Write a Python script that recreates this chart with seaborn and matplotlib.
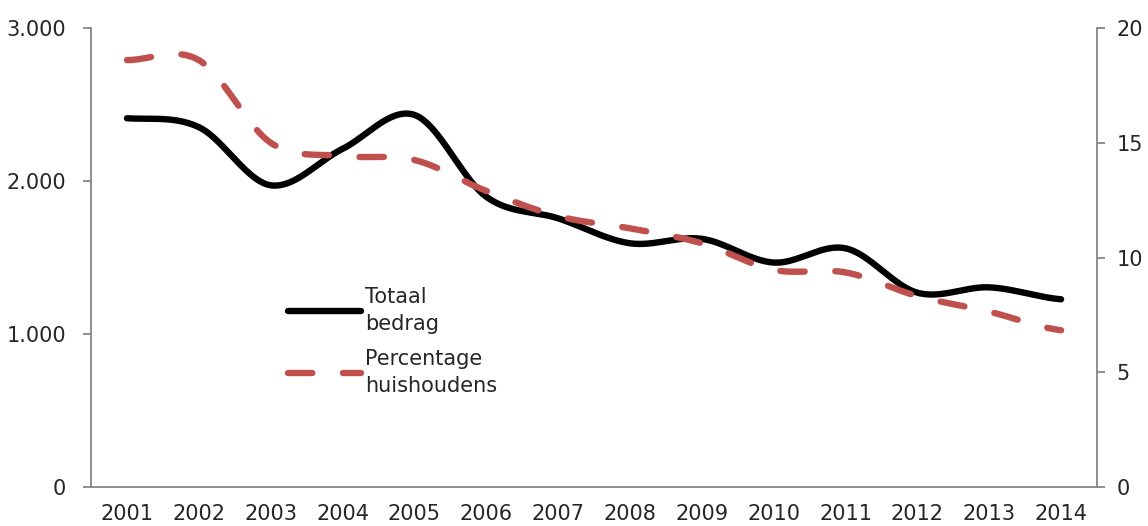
import numpy as np
import pandas as pd
import matplotlib
matplotlib.use('Agg')
import matplotlib.pyplot as plt
import seaborn as sns
from matplotlib.lines import Line2D

# Gegevens
jaren = ['2001', '2002', '2003', '2004', '2005', '2006', '2007',
         '2008', '2009', '2010', '2011', '2012', '2013', '2014']
totaal_bedrag = [2410, 2352, 1972, 2210, 2432, 1897, 1756,
                 1593, 1622, 1467, 1560, 1270, 1305, 1227]
perc_huishoudens = [18.6, 18.6, 15.0, 14.42, 14.25, 12.9, 11.8,
                    11.27, 10.62, 9.46, 9.35, 8.32, 7.64, 6.83]

links_ticks = [0, 1000, 2000, 3000]
links_labels = ['0', '1.000', '2.000', '3.000']
rechts_ticks = [0, 5, 10, 15, 20]

tekst = '#262626'
as_kleur = '#868686'
rood = '#C0504D'


def smooth(y, n=40):
    # Catmull-Rom curve, zoals de vloeiende lijn in Excel
    y = np.asarray(y, dtype=float)
    x = np.arange(len(y), dtype=float)
    px = np.concatenate([[2 * x[0] - x[1]], x, [2 * x[-1] - x[-2]]])
    py = np.concatenate([[y[0]], y, [y[-1]]])
    xs, ys = [], []
    for i in range(1, len(px) - 2):
        t = np.linspace(0, 1, n, endpoint=False)
        for p, out in ((px, xs), (py, ys)):
            p0, p1, p2, p3 = p[i - 1], p[i], p[i + 1], p[i + 2]
            out.append(0.5 * (2 * p1 + (-p0 + p2) * t
                              + (2 * p0 - 5 * p1 + 4 * p2 - p3) * t ** 2
                              + (-p0 + 3 * p1 - 3 * p2 + p3) * t ** 3))
    xs.append([x[-1]])
    ys.append([y[-1]])
    return np.concatenate(xs), np.concatenate(ys)


sns.set_style('white')
plt.rcParams['font.family'] = ['DejaVu Sans']
fs = 15

fig = plt.figure(figsize=(11.48, 5.26), dpi=100)
ax = fig.add_axes([0.0793, 0.0741, 0.8763, 0.8727])
ax2 = ax.twinx()

xb, yb = smooth(totaal_bedrag)
df_b = pd.DataFrame({'x': xb, 'y': yb})
sns.lineplot(data=df_b, x='x', y='y', ax=ax, color='black', linewidth=4.6,
             solid_capstyle='round', sort=False)

xr, yr = smooth(perc_huishoudens)
df_r = pd.DataFrame({'x': xr, 'y': yr})
sns.lineplot(data=df_r, x='x', y='y', ax=ax2, color=rood, linewidth=4.6,
             linestyle=(0, (3.8, 4.8)), dash_capstyle='round', sort=False)

ax.set_xlim(-0.5, len(jaren) - 0.5)
ax.set_ylim(0, 3000)
ax2.set_ylim(0, 20)
ax.set_xticks(range(len(jaren)))
ax.set_xticklabels(jaren)
ax.set_yticks(links_ticks)
ax.set_yticklabels(links_labels)
ax2.set_yticks(rechts_ticks)
ax.set_xlabel('')
ax.set_ylabel('')
ax2.set_xlabel('')
ax2.set_ylabel('')

for a in (ax, ax2):
    for s in a.spines.values():
        s.set_visible(False)
ax.spines['left'].set_visible(True)
ax.spines['bottom'].set_visible(True)
ax2.spines['right'].set_visible(True)
for s in (ax.spines['left'], ax.spines['bottom'], ax2.spines['right']):
    s.set_color(as_kleur)
    s.set_linewidth(1.3)

ax.tick_params(axis='y', direction='out', length=6, width=1.3, color=as_kleur,
               labelsize=fs, labelcolor=tekst, pad=12, left=True)
ax.tick_params(axis='x', length=0, labelsize=fs, labelcolor=tekst, pad=12)
ax2.tick_params(axis='y', direction='out', length=6, width=1.3, color=as_kleur,
                labelsize=fs, labelcolor=tekst, pad=8, right=True)
ax.grid(False)
ax2.grid(False)

handles = [Line2D([], [], color='black', linewidth=4.6, solid_capstyle='round'),
           Line2D([], [], color=rood, linewidth=4.6, linestyle=(0, (3.8, 4.8)),
                  dash_capstyle='round')]
leg = ax2.legend(handles, ['Totaal\nbedrag', 'Percentage\nhuishoudens'],
                 loc='upper left', bbox_to_anchor=(0.196, 0.435), frameon=False,
                 fontsize=fs, labelcolor=tekst, handlelength=3.5,
                 handletextpad=0.2, labelspacing=0.75, borderpad=0,
                 borderaxespad=0)
for t in leg.get_texts():
    t.set_linespacing(1.4)

fig.savefig('out.png', dpi=100)
